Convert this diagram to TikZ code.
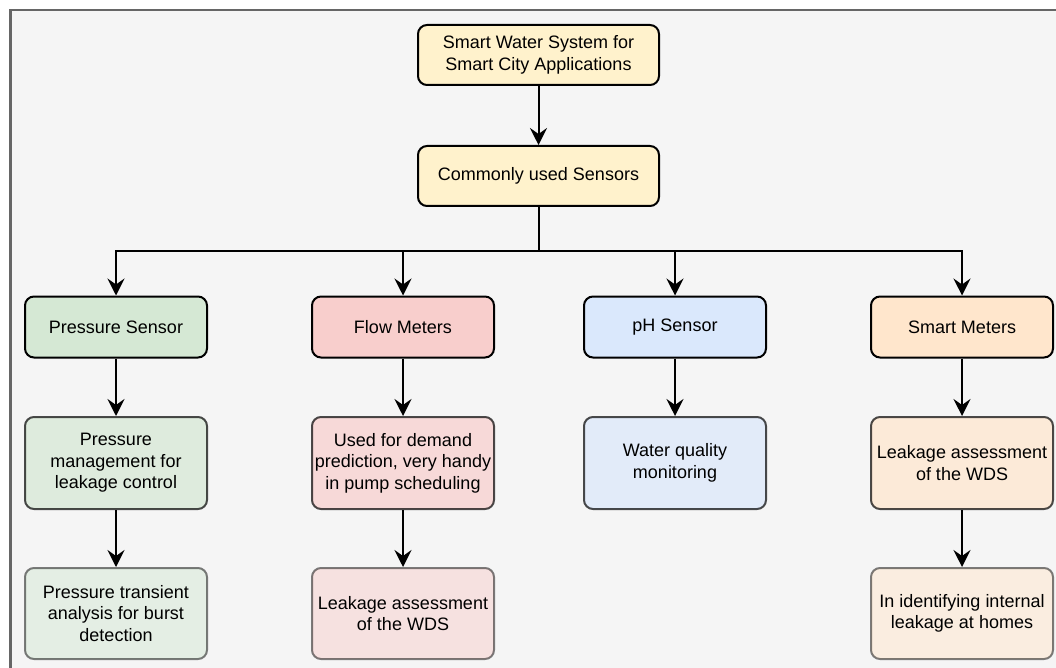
\documentclass[tikz,border=0pt]{standalone}
\usepackage{fontspec}
\setmainfont{Liberation Sans}
\usetikzlibrary{arrows.meta}

\definecolor{bgcol}{HTML}{F5F5F5}
\definecolor{framecol}{HTML}{666666}
\definecolor{yellowfill}{HTML}{FFF2CC}
\definecolor{greenfill}{HTML}{D5E8D4}
\definecolor{redfill}{HTML}{F8CECC}
\definecolor{bluefill}{HTML}{DAE8FC}
\definecolor{orangefill}{HTML}{FFE6CC}

\tikzset{
  box/.style={draw=black, line width=2pt, rounded corners=9pt, align=center,
    minimum width=182pt, minimum height=61pt, inner sep=0pt,
    font=\fontsize{18}{21.5}\selectfont},
  mainbox/.style={box, fill=yellowfill, minimum width=241pt, minimum height=60pt},
  usebox/.style={box, minimum height=92pt, fill opacity=0.7, draw opacity=0.7, text opacity=1},
  notebox/.style={box, minimum height=91pt, fill opacity=0.5, draw opacity=0.5, text opacity=1},
  arr/.style={line width=2pt, -{Stealth[length=17pt,width=17pt,inset=6pt]}}
}

\begin{document}
\begin{tikzpicture}[x=1pt,y=-1pt]
\useasboundingbox (0,0) rectangle (1056,668);
% background panel
\fill[bgcol, draw=framecol, line width=2.5pt] (10.5,10) rectangle (1080,700);

% top of the tree
\node[mainbox] (system) at (538.5,55) {Smart Water System for\\Smart City Applications};
\node[mainbox] (sensors) at (538.5,176) {Commonly used Sensors};

% sensors
\node[box, fill=greenfill] (pressure) at (116,327) {Pressure Sensor};
\node[box, fill=redfill] (flow) at (403,327) {Flow Meters};
\node[box, fill=bluefill] (ph) at (675,327) {pH Sensor};
\node[box, fill=orangefill] (smart) at (962,327) {Smart Meters};

% uses
\node[usebox, fill=greenfill] (pressureuse) at (116,463) {Pressure\\management for\\leakage control};
\node[usebox, fill=redfill] (flowuse) at (403,463) {Used for demand\\prediction, very handy\\in pump scheduling};
\node[usebox, fill=bluefill] (phuse) at (675,463) {Water quality\\monitoring};
\node[usebox, fill=orangefill] (smartuse) at (962,463) {Leakage assessment\\of the WDS};

% further uses
\node[notebox, fill=greenfill] (pressurenote) at (116,613.5) {Pressure transient\\analysis for burst\\detection};
\node[notebox, fill=redfill] (flownote) at (403,613.5) {Leakage assessment\\of the WDS};
\node[notebox, fill=orangefill] (smartnote) at (962,613.5) {In identifying internal\\leakage at homes};

% connectors
\draw[arr] (system) -- (sensors);
\foreach \s in {pressure,flow,ph,smart} {
    \draw[arr] (sensors.south) -- ++(0,44) -| (\s.north);
    \draw[arr] (\s) -- (\s use);
}
\draw[arr] (pressureuse) -- (pressurenote);
\draw[arr] (flowuse) -- (flownote);
\draw[arr] (smartuse) -- (smartnote);
\end{tikzpicture}
\end{document}
